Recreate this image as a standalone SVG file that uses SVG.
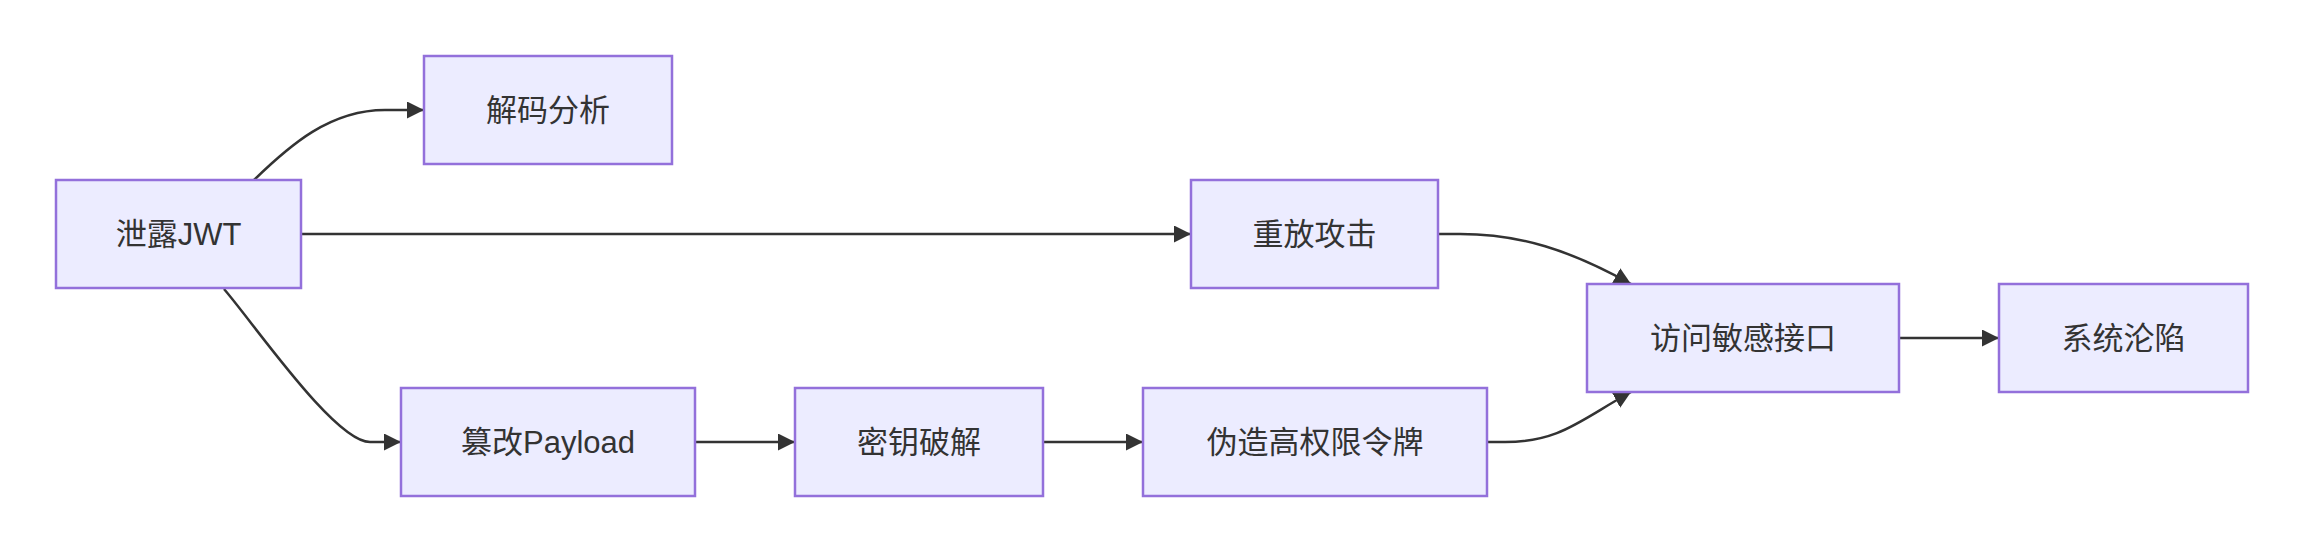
<svg xmlns="http://www.w3.org/2000/svg" width="2303" height="552" viewBox="0 0 2303 552">
<style>
.node rect{fill:#ECECFF;stroke:#9370DB;stroke-width:2.5}
.node text{fill:#333333;font-family:"Liberation Sans","Noto Sans CJK SC",sans-serif;font-size:31px;text-anchor:middle;dominant-baseline:central}
.edges path{fill:none;stroke:#333333;stroke-width:2.5}
</style>
<defs>
<marker id="arrow" markerUnits="userSpaceOnUse" markerWidth="18" markerHeight="18" refX="17" refY="8.5" orient="auto">
<path d="M0,0 L17,8.5 L0,17 z" fill="#333333"/>
</marker>
</defs>
<rect width="2303" height="552" fill="#ffffff"/>
<g class="edges">
<path d="M254,180 C290,145 330,110 385,110 L424,110" marker-end="url(#arrow)"/>
<path d="M301,234 L1191,234" marker-end="url(#arrow)"/>
<path d="M224,289 C255,325 335,442 370,442 L401,442" marker-end="url(#arrow)"/>
<path d="M695,442 L795,442" marker-end="url(#arrow)"/>
<path d="M1043,442 L1143,442" marker-end="url(#arrow)"/>
<path d="M1438,234 L1460,234 C1520,234 1570,250 1631,284" marker-end="url(#arrow)"/>
<path d="M1487,442 L1505,442 C1560,442 1580,420 1631,392" marker-end="url(#arrow)"/>
<path d="M1899,338 L1999,338" marker-end="url(#arrow)"/>
</g>
<g id="n1" class="node"><rect x="56" y="180" width="245" height="108"/><text x="178.5" y="234">泄露JWT</text></g>
<g id="n2" class="node"><rect x="424" y="56" width="248" height="108"/><text x="548" y="110">解码分析</text></g>
<g id="n3" class="node"><rect x="1191" y="180" width="247" height="108"/><text x="1314.5" y="234">重放攻击</text></g>
<g id="n4" class="node"><rect x="401" y="388" width="294" height="108"/><text x="548" y="442">篡改Payload</text></g>
<g id="n5" class="node"><rect x="795" y="388" width="248" height="108"/><text x="919" y="442">密钥破解</text></g>
<g id="n6" class="node"><rect x="1143" y="388" width="344" height="108"/><text x="1315" y="442">伪造高权限令牌</text></g>
<g id="n7" class="node"><rect x="1587" y="284" width="312" height="108"/><text x="1743" y="338">访问敏感接口</text></g>
<g id="n8" class="node"><rect x="1999" y="284" width="249" height="108"/><text x="2123.5" y="338">系统沦陷</text></g>
</svg>
